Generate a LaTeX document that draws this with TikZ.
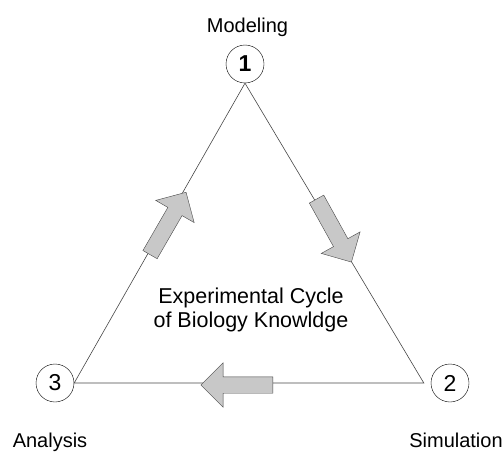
\documentclass[tikz,border=0pt]{standalone}
\usepackage{fontspec}
\setmainfont{Liberation Sans}
\usepackage{xcolor}
\usepackage{tikz}
\usetikzlibrary{shapes.arrows}
\usetikzlibrary{calc}
\definecolor{arrowgray}{RGB}{200,200,200}
\definecolor{edgegray}{RGB}{70,70,70}
\tikzset{
    stage/.style={draw,circle,minimum size=38pt,inner sep=0pt,font=\fontsize{23}{26}\selectfont},
    label/.style={font=\fontsize{20}{24}\selectfont,anchor=base},
    flow/.style={single arrow,draw=edgegray,fill=arrowgray,minimum height=72pt,
        inner sep=8pt,single arrow head extend=14pt,single arrow tip angle=90}
}

\begin{document}
\begin{tikzpicture}[x=1pt,y=-1pt]
        \useasboundingbox (0,0) rectangle (504,452);
        \node[stage] (n1) at (245,64) {\textbf{1}};
        \node[stage] (n2) at (450,383) {2};
        \node[stage] (n3) at (55,383) {3};
        \coordinate (v2) at ($(n2.west)+(-7,0)$);
        \draw[edgegray,line width=0.6pt] (n1.south)--(v2)--(n3.east)--cycle;
        \node[label] (modeling) at (247.5,33) {Modeling};
        \node[label] (simulation) at (456,447) {Simulation};
        \node[label] (analysis) at (50,447) {Analysis};
        \node[align=center,font=\fontsize{21.5}{24}\selectfont] (cycle) at (251,310) {Experimental Cycle\\of Biology Knowldge};
        \node[flow,rotate=-61] (a12) at (332,227) {};
        \node[flow,rotate=180] (a23) at (241,385) {};
        \node[flow,rotate=60] (a31) at (166,227) {};
    \end{tikzpicture}
\end{document}
